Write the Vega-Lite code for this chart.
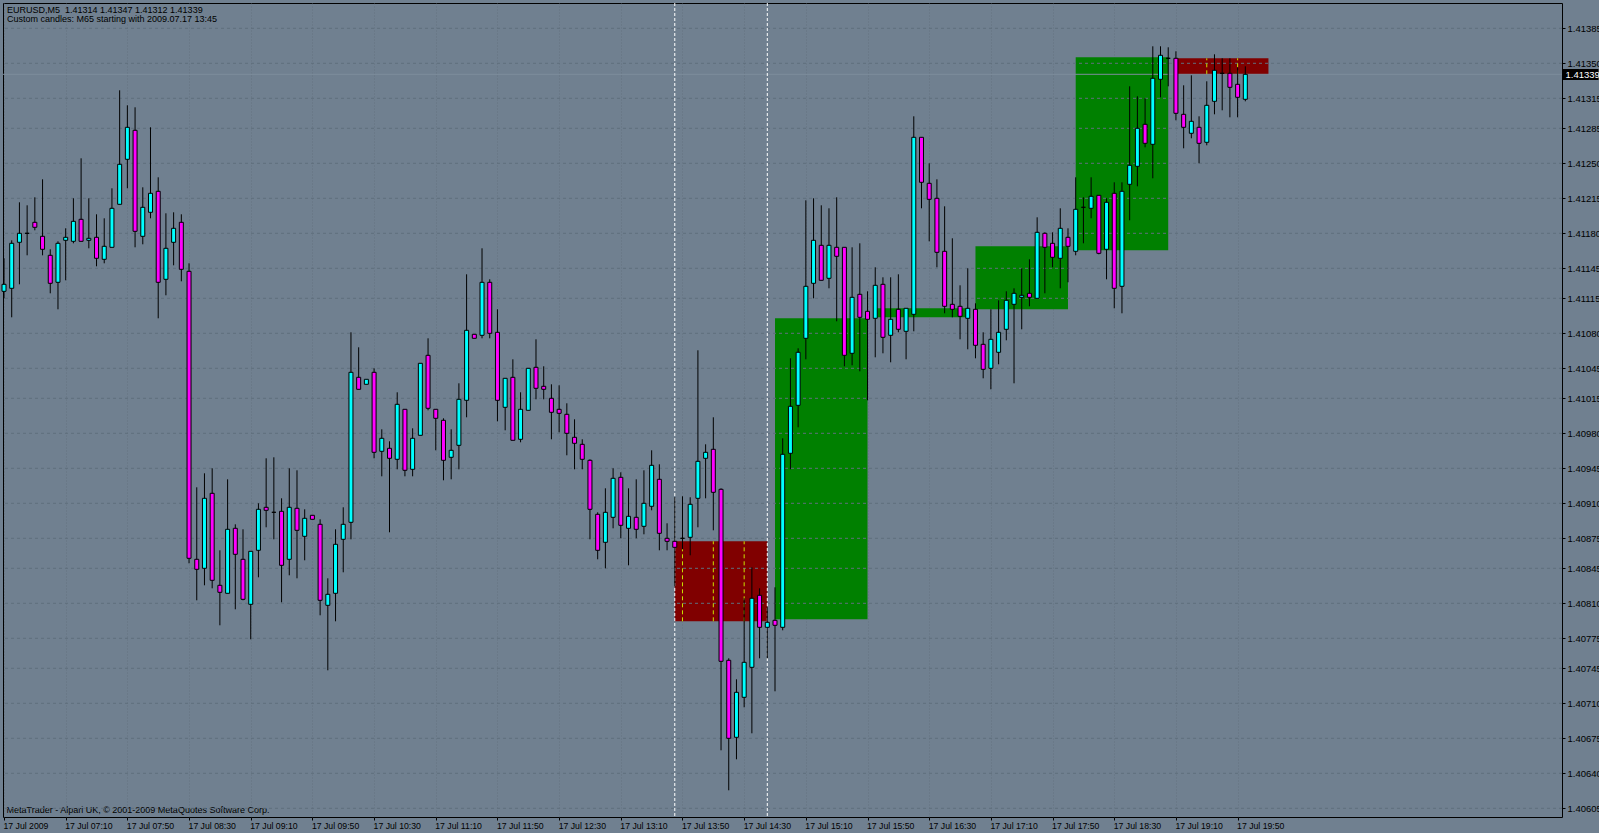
{
"$schema":"https://vega.github.io/schema/vega-lite/v6.json",
"width":1559,"height":814,
"autosize":{"type":"none"},
"padding":{"left":3,"top":3,"right":37,"bottom":16},
"background":"#708090",
"title":{"text":["EURUSD,M5\u00a0 1.41314 1.41347 1.41312 1.41339","Custom candles: M65 starting with 2009.07.17 13:45"],"anchor":"start","frame":"group","orient":"top","offset":-21.5,"baseline":"top","dx":4,"fontSize":9,"fontWeight":"normal","font":"Liberation Sans","color":"#000000","lineHeight":9.5},
"datasets":{
"candles":[
{"t":"2009-07-17T06:30","o":1.41122,"h":1.41155,"l":1.41115,"c":1.41129},
{"t":"2009-07-17T06:35","o":1.41125,"h":1.41173,"l":1.41096,"c":1.4117},
{"t":"2009-07-17T06:40","o":1.41171,"h":1.41211,"l":1.41129,"c":1.4118},
{"t":"2009-07-17T06:45","o":1.4118,"h":1.41208,"l":1.41158,"c":1.4118},
{"t":"2009-07-17T06:50","o":1.41191,"h":1.41216,"l":1.41183,"c":1.41186},
{"t":"2009-07-17T06:55","o":1.41177,"h":1.41234,"l":1.41158,"c":1.41164},
{"t":"2009-07-17T07:00","o":1.41158,"h":1.41164,"l":1.4112,"c":1.4113},
{"t":"2009-07-17T07:05","o":1.41131,"h":1.41172,"l":1.41104,"c":1.4117},
{"t":"2009-07-17T07:10","o":1.41173,"h":1.41185,"l":1.41133,"c":1.41176},
{"t":"2009-07-17T07:15","o":1.41172,"h":1.41215,"l":1.4117,"c":1.41192},
{"t":"2009-07-17T07:20","o":1.41194,"h":1.41255,"l":1.41172,"c":1.41172},
{"t":"2009-07-17T07:25","o":1.41173,"h":1.41215,"l":1.41165,"c":1.41175},
{"t":"2009-07-17T07:30","o":1.41176,"h":1.41199,"l":1.41147,"c":1.41155},
{"t":"2009-07-17T07:35","o":1.41154,"h":1.41195,"l":1.4115,"c":1.41167},
{"t":"2009-07-17T07:40","o":1.41166,"h":1.41225,"l":1.41166,"c":1.41205},
{"t":"2009-07-17T07:45","o":1.41209,"h":1.41323,"l":1.41209,"c":1.41249},
{"t":"2009-07-17T07:50","o":1.41254,"h":1.41308,"l":1.41225,"c":1.41286},
{"t":"2009-07-17T07:55","o":1.41283,"h":1.41306,"l":1.41166,"c":1.41182},
{"t":"2009-07-17T08:00","o":1.41177,"h":1.41226,"l":1.41169,"c":1.41206},
{"t":"2009-07-17T08:05","o":1.41201,"h":1.41286,"l":1.41195,"c":1.4122},
{"t":"2009-07-17T08:10","o":1.41222,"h":1.41236,"l":1.41095,"c":1.41131},
{"t":"2009-07-17T08:15","o":1.41134,"h":1.412,"l":1.41118,"c":1.41165},
{"t":"2009-07-17T08:20","o":1.41171,"h":1.41201,"l":1.41148,"c":1.41185},
{"t":"2009-07-17T08:25","o":1.41191,"h":1.41199,"l":1.41132,"c":1.41144},
{"t":"2009-07-17T08:30","o":1.41142,"h":1.4115,"l":1.4085,"c":1.40855},
{"t":"2009-07-17T08:35","o":1.40854,"h":1.40926,"l":1.40813,"c":1.40844},
{"t":"2009-07-17T08:40","o":1.40845,"h":1.4094,"l":1.40828,"c":1.40915},
{"t":"2009-07-17T08:45","o":1.4092,"h":1.40945,"l":1.40825,"c":1.40833},
{"t":"2009-07-17T08:50","o":1.40828,"h":1.40863,"l":1.40788,"c":1.40821},
{"t":"2009-07-17T08:55","o":1.4082,"h":1.40934,"l":1.4082,"c":1.40884},
{"t":"2009-07-17T09:00","o":1.40885,"h":1.40889,"l":1.40804,"c":1.40859},
{"t":"2009-07-17T09:05","o":1.40854,"h":1.40884,"l":1.40813,"c":1.40814},
{"t":"2009-07-17T09:10","o":1.40809,"h":1.40862,"l":1.40774,"c":1.40862},
{"t":"2009-07-17T09:15","o":1.40863,"h":1.4091,"l":1.40836,"c":1.40904},
{"t":"2009-07-17T09:20","o":1.40906,"h":1.40955,"l":1.40886,"c":1.40903},
{"t":"2009-07-17T09:25","o":1.40901,"h":1.40956,"l":1.40874,"c":1.40901},
{"t":"2009-07-17T09:30","o":1.40902,"h":1.40915,"l":1.40811,"c":1.40848},
{"t":"2009-07-17T09:35","o":1.40854,"h":1.40945,"l":1.40838,"c":1.40906},
{"t":"2009-07-17T09:40","o":1.40905,"h":1.40943,"l":1.40835,"c":1.40883},
{"t":"2009-07-17T09:45","o":1.40877,"h":1.40904,"l":1.40853,"c":1.40895},
{"t":"2009-07-17T09:50","o":1.40898,"h":1.40898,"l":1.40894,"c":1.40894},
{"t":"2009-07-17T09:55","o":1.40889,"h":1.40894,"l":1.40798,"c":1.40813},
{"t":"2009-07-17T10:00","o":1.40808,"h":1.40835,"l":1.40743,"c":1.40819},
{"t":"2009-07-17T10:05","o":1.4082,"h":1.40884,"l":1.40792,"c":1.40869},
{"t":"2009-07-17T10:10","o":1.40874,"h":1.40906,"l":1.40841,"c":1.40889},
{"t":"2009-07-17T10:15","o":1.40891,"h":1.41081,"l":1.40874,"c":1.41041},
{"t":"2009-07-17T10:20","o":1.41036,"h":1.41066,"l":1.41024,"c":1.41024},
{"t":"2009-07-17T10:25","o":1.41029,"h":1.41034,"l":1.41029,"c":1.41034},
{"t":"2009-07-17T10:30","o":1.41041,"h":1.41045,"l":1.40955,"c":1.40961},
{"t":"2009-07-17T10:35","o":1.40962,"h":1.40984,"l":1.40937,"c":1.40975},
{"t":"2009-07-17T10:40","o":1.40965,"h":1.40972,"l":1.40881,"c":1.40955},
{"t":"2009-07-17T10:45","o":1.40954,"h":1.41021,"l":1.40944,"c":1.41009},
{"t":"2009-07-17T10:50","o":1.41004,"h":1.41004,"l":1.40937,"c":1.40943},
{"t":"2009-07-17T10:55","o":1.40944,"h":1.40985,"l":1.40937,"c":1.40975},
{"t":"2009-07-17T11:00","o":1.40978,"h":1.4105,"l":1.40978,"c":1.4105},
{"t":"2009-07-17T11:05","o":1.41058,"h":1.41075,"l":1.41003,"c":1.41005},
{"t":"2009-07-17T11:10","o":1.41004,"h":1.41004,"l":1.40963,"c":1.40995},
{"t":"2009-07-17T11:15","o":1.40993,"h":1.40995,"l":1.40933,"c":1.40953},
{"t":"2009-07-17T11:20","o":1.40956,"h":1.40984,"l":1.40934,"c":1.40963},
{"t":"2009-07-17T11:25","o":1.40968,"h":1.4103,"l":1.40944,"c":1.41014},
{"t":"2009-07-17T11:30","o":1.41013,"h":1.41139,"l":1.40996,"c":1.41083},
{"t":"2009-07-17T11:35","o":1.41079,"h":1.41079,"l":1.41075,"c":1.41075},
{"t":"2009-07-17T11:40","o":1.41078,"h":1.41165,"l":1.41075,"c":1.41131},
{"t":"2009-07-17T11:45","o":1.41131,"h":1.41134,"l":1.41075,"c":1.4108},
{"t":"2009-07-17T11:50","o":1.41081,"h":1.41104,"l":1.40992,"c":1.41013},
{"t":"2009-07-17T11:55","o":1.41006,"h":1.41035,"l":1.40983,"c":1.41035},
{"t":"2009-07-17T12:00","o":1.41036,"h":1.41054,"l":1.40973,"c":1.40973},
{"t":"2009-07-17T12:05","o":1.40974,"h":1.41021,"l":1.40971,"c":1.41004},
{"t":"2009-07-17T12:10","o":1.41003,"h":1.41045,"l":1.41003,"c":1.41045},
{"t":"2009-07-17T12:15","o":1.41046,"h":1.41074,"l":1.41014,"c":1.41025},
{"t":"2009-07-17T12:20","o":1.41027,"h":1.41047,"l":1.41014,"c":1.41024},
{"t":"2009-07-17T12:25","o":1.41015,"h":1.41029,"l":1.40974,"c":1.41001},
{"t":"2009-07-17T12:30","o":1.41004,"h":1.41028,"l":1.40981,"c":1.41},
{"t":"2009-07-17T12:35","o":1.40999,"h":1.4101,"l":1.40958,"c":1.4098},
{"t":"2009-07-17T12:40","o":1.40976,"h":1.40994,"l":1.40944,"c":1.4097},
{"t":"2009-07-17T12:45","o":1.40969,"h":1.40974,"l":1.40944,"c":1.40954},
{"t":"2009-07-17T12:50","o":1.40953,"h":1.40954,"l":1.40874,"c":1.40904},
{"t":"2009-07-17T12:55","o":1.40899,"h":1.40901,"l":1.40854,"c":1.40863},
{"t":"2009-07-17T13:00","o":1.40871,"h":1.40925,"l":1.40845,"c":1.40901},
{"t":"2009-07-17T13:05","o":1.40896,"h":1.40945,"l":1.40885,"c":1.40935},
{"t":"2009-07-17T13:10","o":1.40936,"h":1.40941,"l":1.40875,"c":1.40888},
{"t":"2009-07-17T13:15","o":1.40885,"h":1.40925,"l":1.40848,"c":1.40897},
{"t":"2009-07-17T13:20","o":1.40896,"h":1.40934,"l":1.40875,"c":1.40884},
{"t":"2009-07-17T13:25","o":1.40887,"h":1.40943,"l":1.40879,"c":1.4091},
{"t":"2009-07-17T13:30","o":1.40907,"h":1.40963,"l":1.40903,"c":1.40948},
{"t":"2009-07-17T13:35","o":1.40934,"h":1.40949,"l":1.40863,"c":1.4088},
{"t":"2009-07-17T13:40","o":1.40875,"h":1.4089,"l":1.40863,"c":1.40872},
{"t":"2009-07-17T13:45","o":1.40872,"h":1.40916,"l":1.40827,"c":1.40866},
{"t":"2009-07-17T13:50","o":1.40875,"h":1.40917,"l":1.40864,"c":1.40875},
{"t":"2009-07-17T13:55","o":1.40876,"h":1.40916,"l":1.40858,"c":1.40909},
{"t":"2009-07-17T14:00","o":1.40915,"h":1.41063,"l":1.40886,"c":1.40952},
{"t":"2009-07-17T14:05","o":1.40955,"h":1.40969,"l":1.40915,"c":1.40961},
{"t":"2009-07-17T14:10","o":1.40964,"h":1.40996,"l":1.40883,"c":1.40921},
{"t":"2009-07-17T14:15","o":1.40924,"h":1.40925,"l":1.40663,"c":1.40752},
{"t":"2009-07-17T14:20","o":1.40753,"h":1.40755,"l":1.40623,"c":1.40675},
{"t":"2009-07-17T14:25","o":1.40676,"h":1.40734,"l":1.40654,"c":1.40721},
{"t":"2009-07-17T14:30","o":1.40716,"h":1.40815,"l":1.40706,"c":1.40751},
{"t":"2009-07-17T14:35","o":1.40746,"h":1.40846,"l":1.4068,"c":1.40815},
{"t":"2009-07-17T14:40","o":1.40818,"h":1.40825,"l":1.40755,"c":1.40786},
{"t":"2009-07-17T14:45","o":1.40786,"h":1.40806,"l":1.40755,"c":1.40791},
{"t":"2009-07-17T14:50","o":1.40793,"h":1.40826,"l":1.40722,"c":1.40788},
{"t":"2009-07-17T14:55","o":1.40786,"h":1.40975,"l":1.40783,"c":1.40959},
{"t":"2009-07-17T15:00","o":1.4096,"h":1.41055,"l":1.40944,"c":1.41007},
{"t":"2009-07-17T15:05","o":1.41008,"h":1.41065,"l":1.40986,"c":1.41061},
{"t":"2009-07-17T15:10","o":1.41075,"h":1.41213,"l":1.41054,"c":1.41127},
{"t":"2009-07-17T15:15","o":1.4113,"h":1.41215,"l":1.41115,"c":1.41173},
{"t":"2009-07-17T15:20","o":1.41168,"h":1.41208,"l":1.41133,"c":1.41133},
{"t":"2009-07-17T15:25","o":1.41135,"h":1.41205,"l":1.41125,"c":1.41168},
{"t":"2009-07-17T15:30","o":1.41166,"h":1.41216,"l":1.41092,"c":1.41157},
{"t":"2009-07-17T15:35","o":1.41166,"h":1.41166,"l":1.41047,"c":1.41058},
{"t":"2009-07-17T15:40","o":1.4106,"h":1.41166,"l":1.41048,"c":1.41116},
{"t":"2009-07-17T15:45","o":1.41119,"h":1.4117,"l":1.41042,"c":1.41096},
{"t":"2009-07-17T15:50","o":1.41102,"h":1.41122,"l":1.41013,"c":1.41094},
{"t":"2009-07-17T15:55","o":1.41095,"h":1.41146,"l":1.41056,"c":1.41128},
{"t":"2009-07-17T16:00","o":1.41129,"h":1.41136,"l":1.4106,"c":1.41076},
{"t":"2009-07-17T16:05","o":1.41078,"h":1.41136,"l":1.41051,"c":1.41094},
{"t":"2009-07-17T16:10","o":1.41104,"h":1.41139,"l":1.41081,"c":1.41084},
{"t":"2009-07-17T16:15","o":1.41082,"h":1.41105,"l":1.41054,"c":1.41105},
{"t":"2009-07-17T16:20","o":1.41099,"h":1.41297,"l":1.41082,"c":1.41276},
{"t":"2009-07-17T16:25","o":1.41276,"h":1.41276,"l":1.41205,"c":1.41231},
{"t":"2009-07-17T16:30","o":1.4123,"h":1.4125,"l":1.41172,"c":1.41214},
{"t":"2009-07-17T16:35","o":1.41215,"h":1.41234,"l":1.41146,"c":1.41161},
{"t":"2009-07-17T16:40","o":1.41162,"h":1.41207,"l":1.411,"c":1.41107},
{"t":"2009-07-17T16:45","o":1.41109,"h":1.41175,"l":1.41096,"c":1.41104},
{"t":"2009-07-17T16:50","o":1.41107,"h":1.41128,"l":1.41074,"c":1.41097},
{"t":"2009-07-17T16:55","o":1.41095,"h":1.41145,"l":1.41064,"c":1.41105},
{"t":"2009-07-17T17:00","o":1.41104,"h":1.4111,"l":1.41055,"c":1.41068},
{"t":"2009-07-17T17:05","o":1.41069,"h":1.41081,"l":1.41035,"c":1.41044},
{"t":"2009-07-17T17:10","o":1.41045,"h":1.41104,"l":1.41024,"c":1.41074},
{"t":"2009-07-17T17:15","o":1.41061,"h":1.41113,"l":1.41049,"c":1.41081},
{"t":"2009-07-17T17:20","o":1.41084,"h":1.41122,"l":1.41073,"c":1.41113},
{"t":"2009-07-17T17:25","o":1.41109,"h":1.41125,"l":1.4103,"c":1.4112},
{"t":"2009-07-17T17:30","o":1.41116,"h":1.41145,"l":1.41084,"c":1.41118},
{"t":"2009-07-17T17:35","o":1.4112,"h":1.41154,"l":1.41107,"c":1.41116},
{"t":"2009-07-17T17:40","o":1.41115,"h":1.41196,"l":1.41115,"c":1.41181},
{"t":"2009-07-17T17:45","o":1.4118,"h":1.41181,"l":1.4112,"c":1.41166},
{"t":"2009-07-17T17:50","o":1.4117,"h":1.41181,"l":1.41146,"c":1.41156},
{"t":"2009-07-17T17:55","o":1.41155,"h":1.41205,"l":1.41125,"c":1.41185},
{"t":"2009-07-17T18:00","o":1.41176,"h":1.41185,"l":1.41131,"c":1.41167},
{"t":"2009-07-17T18:05","o":1.41162,"h":1.41236,"l":1.41158,"c":1.41204},
{"t":"2009-07-17T18:10","o":1.41206,"h":1.41216,"l":1.4117,"c":1.41206},
{"t":"2009-07-17T18:15","o":1.41205,"h":1.41236,"l":1.41195,"c":1.41217},
{"t":"2009-07-17T18:20","o":1.41218,"h":1.41218,"l":1.41159,"c":1.4116},
{"t":"2009-07-17T18:25","o":1.41164,"h":1.41215,"l":1.41134,"c":1.41211},
{"t":"2009-07-17T18:30","o":1.4122,"h":1.41231,"l":1.41105,"c":1.41125},
{"t":"2009-07-17T18:35","o":1.41127,"h":1.41231,"l":1.411,"c":1.41222},
{"t":"2009-07-17T18:40","o":1.41229,"h":1.41327,"l":1.41193,"c":1.41248},
{"t":"2009-07-17T18:45","o":1.41247,"h":1.41317,"l":1.41227,"c":1.41285},
{"t":"2009-07-17T18:50","o":1.41289,"h":1.41315,"l":1.41266,"c":1.4127},
{"t":"2009-07-17T18:55","o":1.41269,"h":1.41367,"l":1.41235,"c":1.41335},
{"t":"2009-07-17T19:00","o":1.41334,"h":1.41367,"l":1.41316,"c":1.41358},
{"t":"2009-07-17T19:05","o":1.41355,"h":1.41366,"l":1.41327,"c":1.41355},
{"t":"2009-07-17T19:10","o":1.41355,"h":1.41362,"l":1.41293,"c":1.413},
{"t":"2009-07-17T19:15","o":1.41299,"h":1.41328,"l":1.41265,"c":1.41286},
{"t":"2009-07-17T19:20","o":1.4128,"h":1.41338,"l":1.41275,"c":1.41292},
{"t":"2009-07-17T19:25","o":1.41286,"h":1.41297,"l":1.4125,"c":1.4127},
{"t":"2009-07-17T19:30","o":1.41271,"h":1.41332,"l":1.41268,"c":1.41308},
{"t":"2009-07-17T19:35","o":1.41312,"h":1.41359,"l":1.41299,"c":1.41343},
{"t":"2009-07-17T19:40","o":1.4134,"h":1.41355,"l":1.41303,"c":1.4134},
{"t":"2009-07-17T19:45","o":1.4134,"h":1.41355,"l":1.41296,"c":1.41326},
{"t":"2009-07-17T19:50","o":1.41329,"h":1.41346,"l":1.41296,"c":1.41316},
{"t":"2009-07-17T19:55","o":1.41314,"h":1.41347,"l":1.41312,"c":1.41339}
],
"m65":[
{"s":"2009-07-17T13:45","e":"2009-07-17T14:45","o":1.40872,"c":1.40792},
{"s":"2009-07-17T14:50","e":"2009-07-17T15:50","o":1.40794,"c":1.41095},
{"s":"2009-07-17T15:55","e":"2009-07-17T16:55","o":1.41096,"c":1.41105},
{"s":"2009-07-17T17:00","e":"2009-07-17T18:00","o":1.41104,"c":1.41167},
{"s":"2009-07-17T18:05","e":"2009-07-17T19:05","o":1.41163,"c":1.41356},
{"s":"2009-07-17T19:10","e":"2009-07-17T20:10","o":1.41355,"c":1.41339}
],
"levels":[{"p":1.41385},{"p":1.4135},{"p":1.41315},{"p":1.41285},{"p":1.4125},{"p":1.41215},{"p":1.4118},{"p":1.41145},{"p":1.41115},{"p":1.4108},{"p":1.41045},{"p":1.41015},{"p":1.4098},{"p":1.40945},{"p":1.4091},{"p":1.40875},{"p":1.40845},{"p":1.4081},{"p":1.40775},{"p":1.40745},{"p":1.4071},{"p":1.40675},{"p":1.4064},{"p":1.40605}],
"bid":[{"p":1.41339}],
"marks":[{"t":"2009-07-17T13:45"},{"t":"2009-07-17T14:45"}],
"xor":[
{"t":"2009-07-17T13:50","lo":1.40792,"hi":1.40872},
{"t":"2009-07-17T14:10","lo":1.40792,"hi":1.40872},
{"t":"2009-07-17T14:30","lo":1.40792,"hi":1.40872},
{"t":"2009-07-17T19:30","lo":1.41339,"hi":1.41355},
{"t":"2009-07-17T19:50","lo":1.41339,"hi":1.41355}
]
},
"layer":[
{"data":{"name":"m65"},"mark":{"type":"rect"},
 "encoding":{
  "x":{"field":"s","type":"temporal","scale":{"domain":[{"year":2009,"month":7,"date":17,"hours":6,"minutes":29,"seconds":21},{"year":2009,"month":7,"date":17,"hours":23,"minutes":20,"seconds":22}],"nice":false,"padding":0},
   "axis":{"values":[
{"year":2009,"month":7,"date":17,"hours":6,"minutes":30},{"year":2009,"month":7,"date":17,"hours":6,"minutes":50},
{"year":2009,"month":7,"date":17,"hours":7,"minutes":10},{"year":2009,"month":7,"date":17,"hours":7,"minutes":30},{"year":2009,"month":7,"date":17,"hours":7,"minutes":50},
{"year":2009,"month":7,"date":17,"hours":8,"minutes":10},{"year":2009,"month":7,"date":17,"hours":8,"minutes":30},{"year":2009,"month":7,"date":17,"hours":8,"minutes":50},
{"year":2009,"month":7,"date":17,"hours":9,"minutes":10},{"year":2009,"month":7,"date":17,"hours":9,"minutes":30},{"year":2009,"month":7,"date":17,"hours":9,"minutes":50},
{"year":2009,"month":7,"date":17,"hours":10,"minutes":10},{"year":2009,"month":7,"date":17,"hours":10,"minutes":30},{"year":2009,"month":7,"date":17,"hours":10,"minutes":50},
{"year":2009,"month":7,"date":17,"hours":11,"minutes":10},{"year":2009,"month":7,"date":17,"hours":11,"minutes":30},{"year":2009,"month":7,"date":17,"hours":11,"minutes":50},
{"year":2009,"month":7,"date":17,"hours":12,"minutes":10},{"year":2009,"month":7,"date":17,"hours":12,"minutes":30},{"year":2009,"month":7,"date":17,"hours":12,"minutes":50},
{"year":2009,"month":7,"date":17,"hours":13,"minutes":10},{"year":2009,"month":7,"date":17,"hours":13,"minutes":30},{"year":2009,"month":7,"date":17,"hours":13,"minutes":50},
{"year":2009,"month":7,"date":17,"hours":14,"minutes":10},{"year":2009,"month":7,"date":17,"hours":14,"minutes":30},{"year":2009,"month":7,"date":17,"hours":14,"minutes":50},
{"year":2009,"month":7,"date":17,"hours":15,"minutes":10},{"year":2009,"month":7,"date":17,"hours":15,"minutes":30},{"year":2009,"month":7,"date":17,"hours":15,"minutes":50},
{"year":2009,"month":7,"date":17,"hours":16,"minutes":10},{"year":2009,"month":7,"date":17,"hours":16,"minutes":30},{"year":2009,"month":7,"date":17,"hours":16,"minutes":50},
{"year":2009,"month":7,"date":17,"hours":17,"minutes":10},{"year":2009,"month":7,"date":17,"hours":17,"minutes":30},{"year":2009,"month":7,"date":17,"hours":17,"minutes":50},
{"year":2009,"month":7,"date":17,"hours":18,"minutes":10},{"year":2009,"month":7,"date":17,"hours":18,"minutes":30},{"year":2009,"month":7,"date":17,"hours":18,"minutes":50},
{"year":2009,"month":7,"date":17,"hours":19,"minutes":10},{"year":2009,"month":7,"date":17,"hours":19,"minutes":30},{"year":2009,"month":7,"date":17,"hours":19,"minutes":50}],
    "labelExpr":"(hours(datum.value)*60+minutes(datum.value)) == 390 ? '17 Jul 2009' : ((hours(datum.value)*60+minutes(datum.value)-390) % 40 == 0 ? timeFormat(datum.value, '%d %b %H:%M') : '')",
    "title":"MetaTrader - Alpari UK, © 2001-2009 MetaQuotes Software Corp.",
    "titleX":3,"titleY":-5,"titleAlign":"left","titleAnchor":"start","titleBaseline":"alphabetic","titleFontSize":9,"titleFontWeight":"normal","titleColor":"#000000","titleFont":"Liberation Sans",
    "grid":true,"gridColor":"#5f6e7c","gridDash":[1,2],"gridWidth":1,"gridOpacity":0.7,
    "domain":false,"ticks":true,"tickSize":3,"tickColor":"#000000",
    "labelAlign":"left","labelBaseline":"top","labelPadding":1,"labelOffset":-1,"labelFlush":false,"labelOverlap":false,"labelBound":false,
    "labelFontSize":8.7,"labelFont":"Liberation Sans","labelColor":"#000000"}},
  "x2":{"field":"e"},
  "y":{"field":"o","type":"quantitative","scale":{"domain":[1.405963,1.414103],"nice":false,"zero":false,"padding":0},"axis":null},
  "y2":{"field":"c"},
  "color":{"condition":{"test":"datum.c < datum.o","value":"#800000"},"value":"#008000"}
 }},
{"data":{"name":"levels"},"mark":{"type":"rule","stroke":"#5f6e7c","strokeWidth":1,"strokeDash":[3,3]},
 "encoding":{"y":{"field":"p","type":"quantitative","scale":{"domain":[1.405963,1.414103],"nice":false,"zero":false,"padding":0},"axis":null}}},
{"data":{"name":"xor"},"mark":{"type":"rule","stroke":"#c8e000","strokeWidth":1,"strokeDash":[4,3]},
 "encoding":{"x":{"field":"t","type":"temporal","scale":{"padding":0}},
  "y":{"field":"lo","type":"quantitative","scale":{"domain":[1.405963,1.414103],"nice":false,"zero":false,"padding":0},"axis":null},
  "y2":{"field":"hi"}}},
{"data":{"name":"bid"},"mark":{"type":"rule","stroke":"#7d8c9b","strokeWidth":1},
 "encoding":{"y":{"field":"p","type":"quantitative","scale":{"domain":[1.405963,1.414103],"nice":false,"zero":false,"padding":0},
  "axis":{"orient":"right","values":[1.41339],"format":".5f","domain":false,"grid":false,"ticks":true,"tickSize":36,"tickWidth":11,"tickColor":"#000000","labelColor":"#ffffff","labelPadding":-33,"labelFontSize":9.5,"labelFont":"Liberation Sans","labelOverlap":false,"labelBound":false,"labelFlush":false,"title":null}}}},
{"data":{"name":"marks"},"mark":{"type":"rule","stroke":"#ffffff","strokeWidth":1,"strokeDash":[3,2]},
 "encoding":{"x":{"field":"t","type":"temporal","scale":{"padding":0}}}},
{"data":{"name":"candles"},"mark":{"type":"rule","stroke":"#000000","strokeWidth":1},
 "encoding":{"x":{"field":"t","type":"temporal","scale":{"padding":0}},
  "y":{"field":"l","type":"quantitative","scale":{"domain":[1.405963,1.414103],"nice":false,"zero":false,"padding":0},"axis":null},
  "y2":{"field":"h"}}},
{"data":{"name":"candles"},"mark":{"type":"bar","width":4,"stroke":"#000000","strokeWidth":1},
 "encoding":{"x":{"field":"t","type":"temporal","scale":{"padding":0}},
  "y":{"field":"o","type":"quantitative","scale":{"domain":[1.405963,1.414103],"nice":false,"zero":false,"padding":0},
   "axis":{"orient":"right","values":[1.41385,1.4135,1.41315,1.41285,1.4125,1.41215,1.4118,1.41145,1.41115,1.4108,1.41045,1.41015,1.4098,1.40945,1.4091,1.40875,1.40845,1.4081,1.40775,1.40745,1.4071,1.40675,1.4064,1.40605],
    "format":".5f","grid":false,"domain":false,"ticks":true,"tickSize":3,"tickColor":"#000000","labelPadding":2,"labelFontSize":9.5,"labelFont":"Liberation Sans","labelColor":"#000000","labelOverlap":false,"labelBound":false,"labelFlush":false,"title":null}},
  "y2":{"field":"c"},
  "fill":{"condition":{"test":"datum.c >= datum.o","value":"#00ffff"},"value":"#ff00ff"}
 }}
],
"resolve":{"axis":{"y":"independent"}},
"config":{"view":{"stroke":"#000000","strokeWidth":1,"fill":"#708090"},"axis":{"labelFont":"Liberation Sans","titleFont":"Liberation Sans"}}
}
